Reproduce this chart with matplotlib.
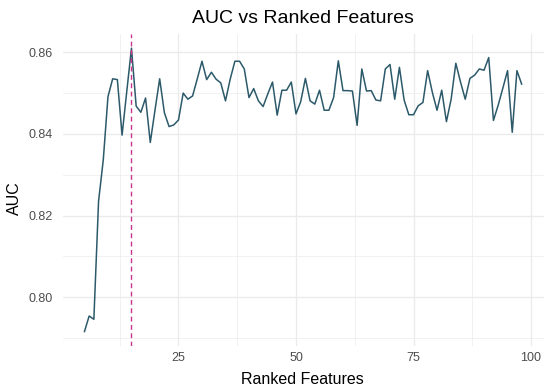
import matplotlib
matplotlib.use("Agg")
import matplotlib.pyplot as plt
import numpy as np

title = "AUC vs Ranked Features"
x_label = "Ranked Features"
y_label = "AUC"

features = list(range(5, 99))
auc = [
    0.7916, 0.7954, 0.7946, 0.8235, 0.8336, 0.8491, 0.8535, 0.8533, 0.8397, 0.8504,
    0.8610, 0.8468, 0.8453, 0.8488, 0.8379, 0.8458, 0.8535, 0.8452, 0.8418, 0.8422,
    0.8434, 0.8500, 0.8485, 0.8493, 0.8535, 0.8578, 0.8533, 0.8551, 0.8534, 0.8525,
    0.8481, 0.8534, 0.8578, 0.8578, 0.8559, 0.8489, 0.8511, 0.8481, 0.8467, 0.8498,
    0.8527, 0.8446, 0.8507, 0.8507, 0.8527, 0.8449, 0.8479, 0.8536, 0.8481, 0.8473,
    0.8507, 0.8458, 0.8458, 0.8489, 0.8579, 0.8506, 0.8506, 0.8505, 0.8421, 0.8559,
    0.8505, 0.8506, 0.8483, 0.8481, 0.8559, 0.8570, 0.8485, 0.8563, 0.8483, 0.8447,
    0.8447, 0.8469, 0.8477, 0.8555, 0.8502, 0.8458, 0.8507, 0.8430, 0.8485, 0.8573,
    0.8527, 0.8485, 0.8536, 0.8544, 0.8559, 0.8556, 0.8587, 0.8433, 0.8470, 0.8512,
    0.8555, 0.8404, 0.8555, 0.8522,
]
best_feature = 15

x_ticks = [25, 50, 75, 100]
x_minor = [12.5, 37.5, 62.5, 87.5]
y_ticks = [0.80, 0.82, 0.84, 0.86]
y_tick_labels = ["0.80", "0.82", "0.84", "0.86"]
y_minor = [0.79, 0.81, 0.83, 0.85]

plt.rcParams['font.family'] = ['Liberation Sans', 'DejaVu Sans']

fig = plt.figure(figsize=(5.5, 3.88), dpi=100)
W, H = 550, 388
ax = fig.add_axes([62.6 / W, 42.3 / H, (543.5 - 62.6) / W, (345.7 - 34) / H])

xmin, xmax = min(features), max(features)
ymin, ymax = min(auc), max(auc)
xpad = (xmax - xmin) * 0.05
ypad = (ymax - ymin) * 0.05
ax.set_xlim(xmin - xpad, xmax + xpad)
ax.set_ylim(ymin - ypad, ymax + ypad)

grid_c = "#EBEBEB"
for v in x_minor:
    ax.axvline(v, color=grid_c, lw=0.5, zorder=0)
for v in y_minor:
    ax.axhline(v, color=grid_c, lw=0.5, zorder=0)
for v in x_ticks:
    ax.axvline(v, color=grid_c, lw=1.0, zorder=0)
for v in y_ticks:
    ax.axhline(v, color=grid_c, lw=1.0, zorder=0)

ax.plot(features, auc, color="#2C5A6A", lw=1.1, zorder=3)
ax.axvline(best_feature, color="#C8358A", lw=1.0, ls=(0, (3.5, 2.5)), zorder=4)

for s in ax.spines.values():
    s.set_visible(False)
ax.set_xticks(x_ticks)
ax.set_xticklabels([str(t) for t in x_ticks])
ax.set_yticks(y_ticks)
ax.set_yticklabels(y_tick_labels)
ax.tick_params(axis='both', length=0, labelsize=9, labelcolor="#4D4D4D")
ax.tick_params(axis='x', pad=4.5)
ax.tick_params(axis='y', pad=7)

ax.set_xlabel(x_label, fontsize=11.5, color="black")
ax.xaxis.label.set_va('baseline')
ax.xaxis.set_label_coords(302.5 / W, 3.5 / H, transform=fig.transFigure)
ax.set_ylabel(y_label, fontsize=11.5, color="black")
ax.yaxis.label.set_va('center')
ax.yaxis.set_label_coords(14 / W, 190 / H, transform=fig.transFigure)

fig.text(303 / W, 1 - 22.7 / H, title, ha='center', va='baseline', fontsize=14, color="black")

fig.savefig("out.png", dpi=100, facecolor="white")
